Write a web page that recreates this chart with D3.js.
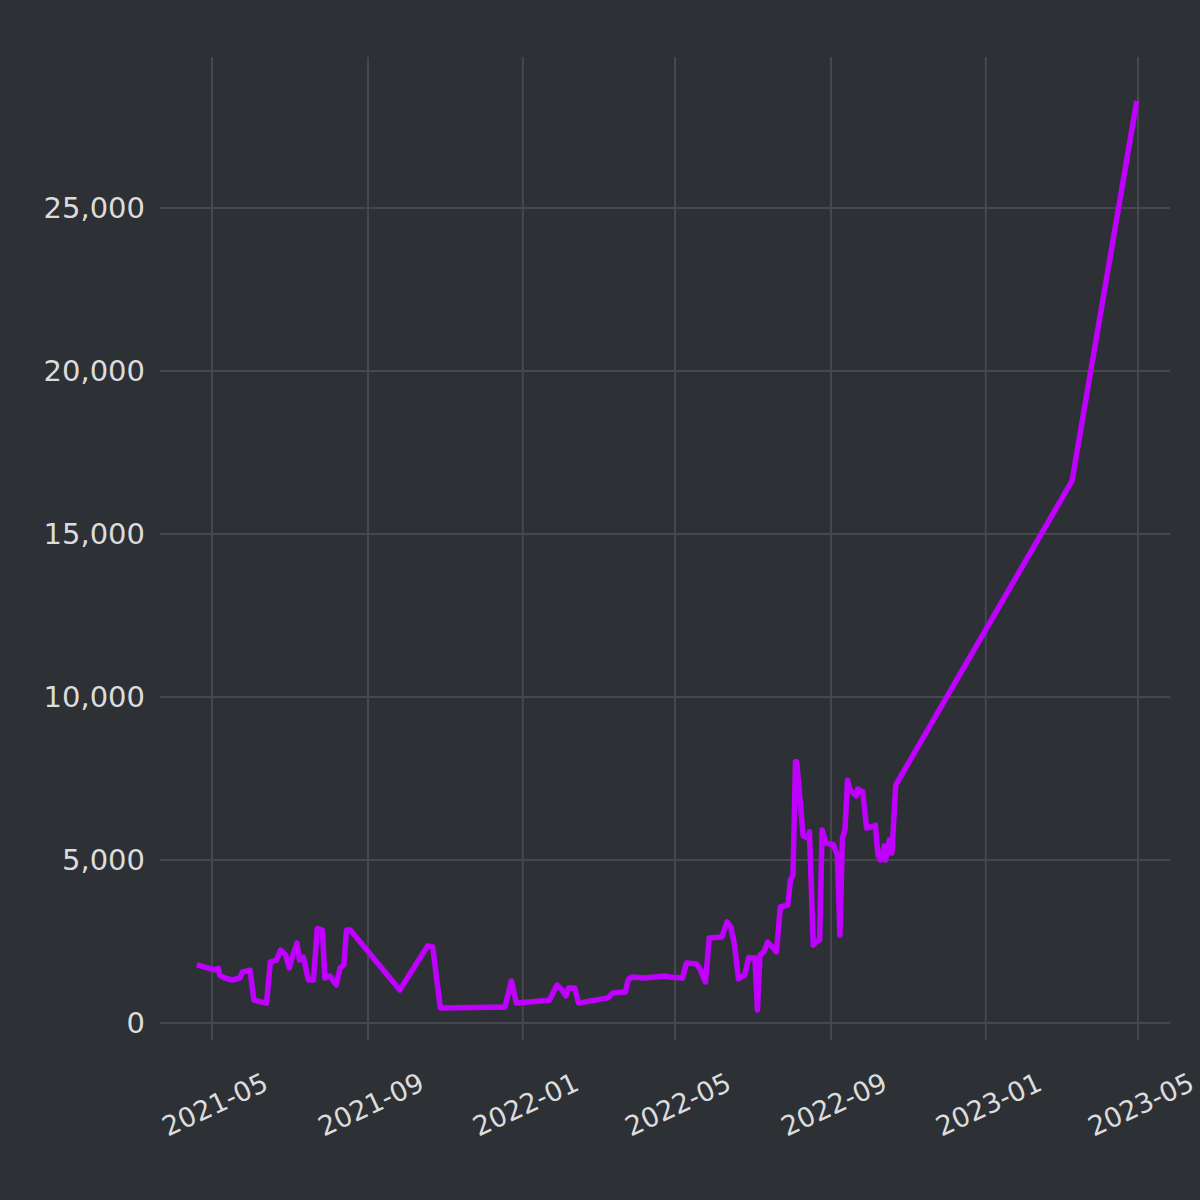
<!DOCTYPE html><html><head><meta charset="utf-8">
<script src="https://cdn.jsdelivr.net/npm/d3@7"></script>
<style>body{margin:0;background:#2d3035}</style></head><body><svg id="c" width="1200" height="1200"></svg>
<script>
// days since 2021-05-01
const days=[-12,2,5,6,10,16,22,24,30,33,43,46,51,54,58,61,63,67,69,72,76,80,83,87,89,93,98,101,104,106,109,148,170,174,180,231,236,240,266,272,276,279,281,286,289,312,316,326,328,331,341,357,361,371,374,382,385,389,392,402,406,409,412,415,420,423,428,430,432,435,438,441,445,448,454,456,458,460,461,466,470,471,474,478,479,481,484,490,493,495,497,499,501,503,508,509,513,516,520,523,525,527,530,531,534,536,539,678,729];
const values=[1780,1630,1680,1470,1380,1320,1380,1560,1620,700,610,1870,1930,2240,2090,1690,2000,2450,1930,2020,1320,1320,2900,2850,1380,1440,1170,1690,1780,2850,2850,1010,2360,2330,460,490,1290,610,700,1170,1010,830,1070,1070,610,770,920,950,1320,1410,1380,1440,1410,1380,1840,1810,1630,1260,2610,2640,3100,2940,2390,1350,1470,2000,2000,400,2090,2180,2480,2360,2180,3560,3620,4390,4540,8010,8010,5740,5670,5860,2390,2550,2550,5920,5520,5460,5150,2700,5670,5920,7450,7150,6960,7180,7090,5980,6010,6070,5150,5000,5430,5000,5610,5210,7300,16630,28280];
const yTicks=[0,5000,10000,15000,20000,25000];
const xTicks=["2021-05-01","2021-09-01","2022-01-01","2022-05-01","2022-09-01","2023-01-01","2023-05-01"];
const base=new Date(2021,4,1);
const data=days.map((d,i)=>({date:d3.timeDay.offset(base,d),v:values[i]}));
const svg=d3.select("#c");
const x=d3.scaleTime().domain([new Date(2021,4,1),new Date(2023,4,1)]).range([212,1138]);
const y=d3.scaleLinear().domain([0,25000]).range([1023,208]);
const L=160,R=1170,T=57,B=1040;
const g=svg.append("g");
yTicks.forEach(t=>g.append("line").attr("x1",L).attr("x2",R).attr("y1",y(t)).attr("y2",y(t)).attr("stroke","#45484d").attr("stroke-width",2));
xTicks.forEach(t=>{const xx=x(d3.timeParse("%Y-%m-%d")(t));g.append("line").attr("x1",xx).attr("x2",xx).attr("y1",T).attr("y2",B).attr("stroke","#45484d").attr("stroke-width",2);});
const fmt=d3.format(",");
yTicks.forEach(t=>svg.append("text").attr("x",145).attr("y",y(t)).attr("dy","0.35em").attr("text-anchor","end").attr("fill","#dcdcdc").attr("font-family","DejaVu Sans").attr("font-size",29).text(fmt(t)));
xTicks.forEach(t=>{const xx=x(d3.timeParse("%Y-%m-%d")(t));svg.append("text").attr("transform",`translate(${xx+50},${1072}) rotate(-25)`).attr("text-anchor","end").attr("dy","0.7em").attr("fill","#dcdcdc").attr("font-family","DejaVu Sans").attr("font-size",27).text(t.slice(0,7));});
svg.append("path").datum(data).attr("fill","none").attr("stroke","#c000ff").attr("stroke-width",5.5).attr("stroke-linejoin","round").attr("d",d3.line().x(d=>x(d.date)).y(d=>y(d.v)));
</script></body></html>
